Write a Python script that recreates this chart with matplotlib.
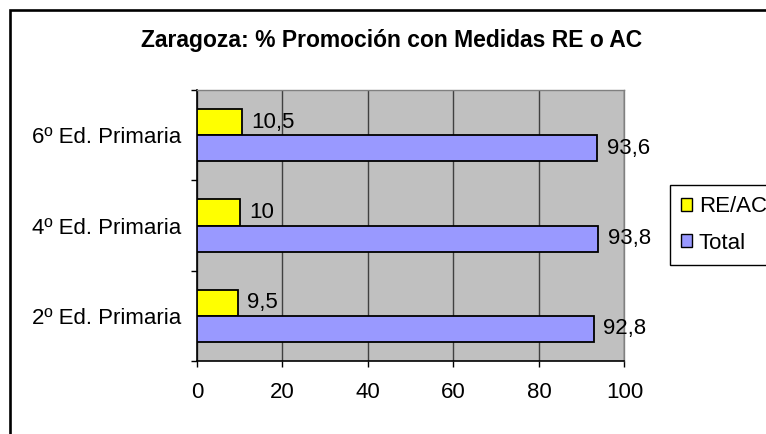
import matplotlib

matplotlib.use("Agg")
import matplotlib.pyplot as plt
from matplotlib.patches import Patch, Rectangle
import numpy as np

# categories bottom -> top, as drawn
categories = ["2º Ed. Primaria", "4º Ed. Primaria", "6º Ed. Primaria"]
re_ac = [9.5, 10, 10.5]
total = [92.8, 93.8, 93.6]
x_ticks = [0, 20, 40, 60, 80, 100]

plt.rcParams["font.family"] = ["Liberation Sans", "DejaVu Sans"]
FS = 16

W, H = 766, 434
fig = plt.figure(figsize=(W / 100, H / 100), dpi=100)

# outer chart-area frame (right/bottom edges fall outside the picture)
fig.patches.append(Rectangle((9.5 / W, -0.2), 1.2, 1.2 - 9.5 / H,
                             transform=fig.transFigure, fill=False,
                             edgecolor="black", linewidth=1.9))

ax = fig.add_axes([197 / W, 1 - 361 / H, (624.4 - 197) / W, (361 - 90) / H])
ax.set_facecolor("#C0C0C0")

y = np.arange(len(categories))
h = 0.288
b1 = ax.barh(y + h / 2, re_ac, height=h, color="#FFFF00", edgecolor="black",
             linewidth=1.3, label="RE/AC", zorder=3)
b2 = ax.barh(y - h / 2, total, height=h, color="#9999FF", edgecolor="black",
             linewidth=1.3, label="Total", zorder=3)

fmt = lambda v: f"{v:g}".replace(".", ",")
ax.bar_label(b1, labels=[fmt(v) for v in re_ac], padding=7, fontsize=FS)
ax.bar_label(b2, labels=[fmt(v) for v in total], padding=7, fontsize=FS)

ax.set_xlim(0, 100)
ax.set_ylim(-0.5, len(categories) - 0.5)
ax.set_xticks(x_ticks)
ax.set_xticklabels([str(t) for t in x_ticks], fontsize=FS)
ax.set_yticks(y)
ax.set_yticklabels(categories, fontsize=FS)
ax.set_yticks(np.arange(-0.5, len(categories)), minor=True)
ax.tick_params(axis="y", which="major", length=0, pad=11.5)
ax.tick_params(axis="y", which="minor", length=4, width=1, direction="out")
ax.tick_params(axis="x", length=4, width=1, direction="out", pad=11)
ax.grid(axis="x", color="#404040", linewidth=1, zorder=1)
ax.set_axisbelow(True)

for side in ("top", "right"):
    ax.spines[side].set_color("#808080")
    ax.spines[side].set_linewidth(1)
for side in ("left", "bottom"):
    ax.spines[side].set_color("black")
    ax.spines[side].set_linewidth(1.2)

fig.text(392 / W, 1 - 40 / H, "Zaragoza: % Promoción con Medidas RE o AC",
         ha="center", va="center", fontsize=16.5, fontweight="bold")

handles = [Patch(facecolor="#FFFF00", edgecolor="black", label="RE/AC"),
           Patch(facecolor="#9999FF", edgecolor="black", label="Total")]
leg = fig.legend(handles=handles, loc="upper left",
                 bbox_to_anchor=(670 / W, 1 - 185 / H), fontsize=FS,
                 handlelength=0.5, handleheight=0.5, handletextpad=0.3,
                 labelspacing=0.7, borderpad=0.5, borderaxespad=0,
                 fancybox=False, edgecolor="black", framealpha=1)
leg.get_frame().set_linewidth(1)

fig.savefig("out.png", dpi=100)
